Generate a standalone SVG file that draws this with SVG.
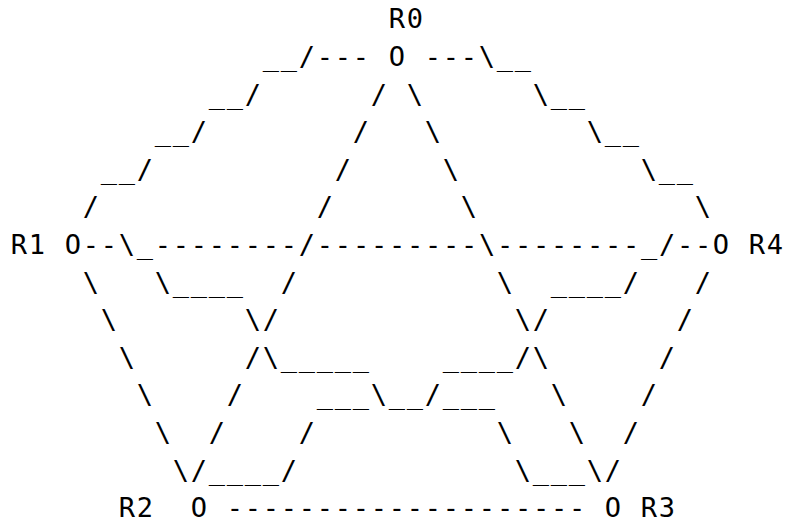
<svg xmlns="http://www.w3.org/2000/svg" width="785" height="524" viewBox="0 0 785 524">
<style>
.t{font-family:"DejaVu Sans Mono",monospace;font-size:27px;letter-spacing:1.75px;fill:#000}
</style>
<rect width="785" height="524" fill="#fff"/>
<g id="connectors" class="t">
<text x="262.8" y="66">__/---</text>
<text x="424.8" y="66">---\__</text>
<text x="208.8" y="103.6">__/</text>
<text x="370.8" y="103.6">/</text>
<text x="406.8" y="103.6">\</text>
<text x="532.8" y="103.6">\__</text>
<text x="154.8" y="141.2">__/</text>
<text x="352.8" y="141.2">/</text>
<text x="424.8" y="141.2">\</text>
<text x="586.8" y="141.2">\__</text>
<text x="100.8" y="178.8">__/</text>
<text x="334.8" y="178.8">/</text>
<text x="442.8" y="178.8">\</text>
<text x="640.8" y="178.8">\__</text>
<text x="82.8" y="216.4">/</text>
<text x="316.8" y="216.4">/</text>
<text x="460.8" y="216.4">\</text>
<text x="694.8" y="216.4">\</text>
<text x="82.8" y="254">--\_--------/---------\--------_/--</text>
<text x="82.8" y="291.6">\</text>
<text x="154.8" y="291.6">\____</text>
<text x="280.8" y="291.6">/</text>
<text x="496.8" y="291.6">\</text>
<text x="550.8" y="291.6">____/</text>
<text x="694.8" y="291.6">/</text>
<text x="100.8" y="329.2">\</text>
<text x="244.8" y="329.2">\/</text>
<text x="514.8" y="329.2">\/</text>
<text x="676.8" y="329.2">/</text>
<text x="118.8" y="366.8">\</text>
<text x="244.8" y="366.8">/\_____</text>
<text x="442.8" y="366.8">____/\</text>
<text x="658.8" y="366.8">/</text>
<text x="136.8" y="404.4">\</text>
<text x="226.8" y="404.4">/</text>
<text x="316.8" y="404.4">___\__/___</text>
<text x="550.8" y="404.4">\</text>
<text x="640.8" y="404.4">/</text>
<text x="154.8" y="442">\</text>
<text x="208.8" y="442">/</text>
<text x="298.8" y="442">/</text>
<text x="496.8" y="442">\</text>
<text x="568.8" y="442">\</text>
<text x="622.8" y="442">/</text>
<text x="172.8" y="479.6">\/____/</text>
<text x="514.8" y="479.6">\___\/</text>
<text x="226.8" y="517.2">--------------------</text>
</g>
<g id="R0" class="t">
<text x="388.8" y="28.4">R0</text>
<text x="388.8" y="66">O</text>
</g>
<g id="R1" class="t">
<text x="10.8" y="254">R1</text>
<text x="64.8" y="254">O</text>
</g>
<g id="R4" class="t">
<text x="712.8" y="254">O</text>
<text x="748.8" y="254">R4</text>
</g>
<g id="R2" class="t">
<text x="118.8" y="517.2">R2</text>
<text x="190.8" y="517.2">O</text>
</g>
<g id="R3" class="t">
<text x="604.8" y="517.2">O</text>
<text x="640.8" y="517.2">R3</text>
</g>
</svg>
